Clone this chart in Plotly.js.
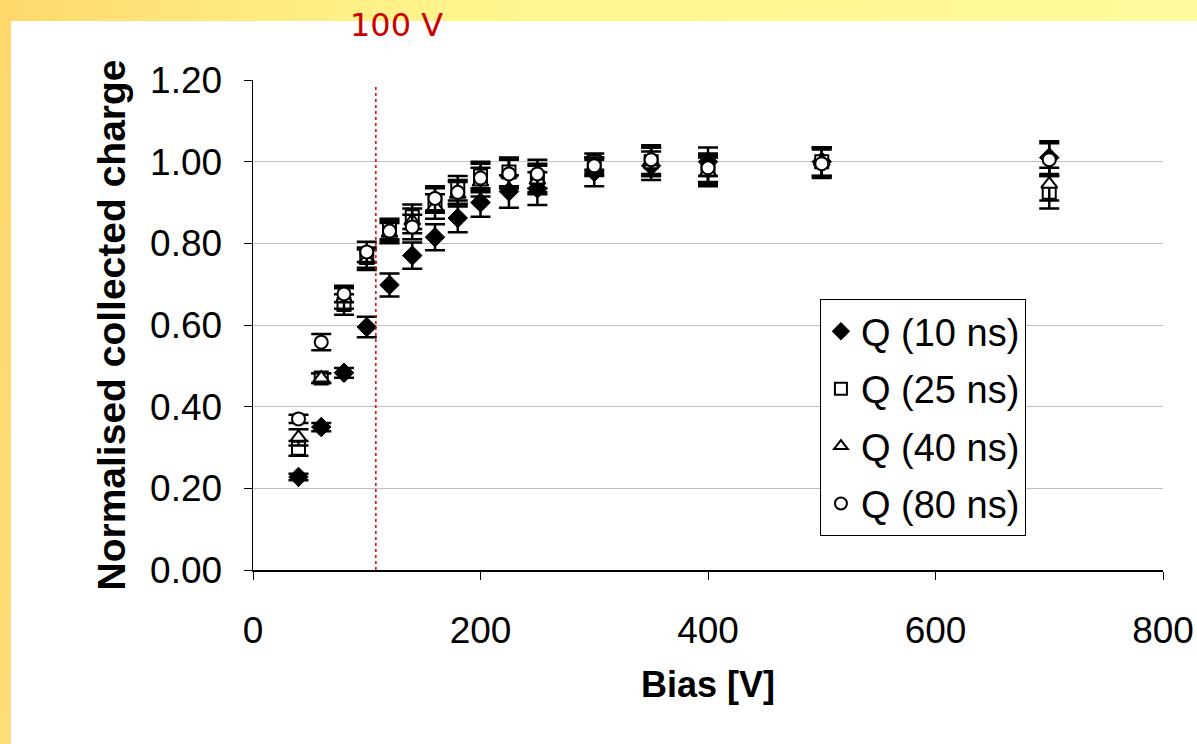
<!DOCTYPE html>
<html>
<head>
<meta charset="utf-8">
<script src="https://cdn.plot.ly/plotly-3.0.1.min.js"></script>
<style>
  html, body { margin:0; padding:0; background:#ffffff; }
  #wrap { position:relative; width:1197px; height:744px; overflow:hidden; background:#ffffff; }
  #topband { position:absolute; left:0; top:0; width:1197px; height:21px;
    background:linear-gradient(to right, #FFD86C 0%, #FFEE84 25%, #FFF68F 45%, #FFFA9C 100%); }
  #leftband { position:absolute; left:0; top:0; width:11px; height:744px;
    background:linear-gradient(to bottom, #FFD86C 0%, #FFDD77 100%); }
  #chart { position:absolute; left:0; top:0; width:1197px; height:744px; }
</style>
</head>
<body>
<div id="wrap">
  <div id="topband"></div>
  <div id="leftband"></div>
  <div id="chart"></div>
</div>
<script>
// Bias voltages [V]
const bias = [40, 60, 80, 100, 120, 140, 160, 180, 200, 225, 250, 300, 350, 400, 500, 700];

// Normalised collected charge for each integration time
const q10 = [0.228, 0.350, 0.483, 0.595, 0.698, 0.770, 0.815, 0.862, 0.900, 0.927, 0.934, 0.975, 0.990, 1.000, 1.000, 1.010];
const q25 = [0.298, 0.470, 0.650, 0.765, 0.835, 0.865, 0.905, 0.935, 0.965, 0.975, 0.960, 1.000, 1.000, 0.980, 1.000, 0.925];
const q40 = [0.325, 0.470, 0.665, 0.760, 0.825, 0.855, 0.890, 0.920, 0.950, 0.970, 0.955, 0.985, 1.000, 0.975, 1.000, 0.945];
const q80 = [0.370, 0.558, 0.676, 0.779, 0.830, 0.840, 0.910, 0.925, 0.960, 0.970, 0.970, 0.990, 1.005, 0.985, 0.995, 1.005];

// Error bars (absolute)
const e10 = [0.008, 0.010, 0.012, 0.025, 0.028, 0.032, 0.032, 0.035, 0.035, 0.040, 0.040, 0.035, 0.035, 0.035, 0.035, 0.040];
const e25 = [0.018, 0.012, 0.025, 0.025, 0.025, 0.030, 0.030, 0.030, 0.035, 0.035, 0.035, 0.020, 0.035, 0.035, 0.035, 0.040];
const e40 = [0.020, 0.012, 0.025, 0.025, 0.025, 0.030, 0.030, 0.030, 0.035, 0.035, 0.035, 0.020, 0.035, 0.035, 0.035, 0.040];
const e80 = [0.010, 0.020, 0.020, 0.025, 0.025, 0.030, 0.030, 0.030, 0.035, 0.035, 0.035, 0.020, 0.035, 0.035, 0.035, 0.040];

const seriesNames = ["Q (10 ns)", "Q (25 ns)", "Q (40 ns)", "Q (80 ns)"];
const xTicks = [0, 200, 400, 600, 800];
const yTicks = [0, 0.2, 0.4, 0.6, 0.8, 1.0, 1.2];
const markLine = 108;   // position of the dotted 100 V marker

function errBar(arr) {
  return { type: 'data', array: arr, visible: true, color: '#000000', thickness: 2.5, width: 10 };
}

const traces = [
  { x: bias, y: q10, name: seriesNames[0], legendgroup: 'a', mode: 'markers', type: 'scatter',
    error_y: errBar(e10),
    marker: { symbol: 'diamond', size: 15, color: '#000000', line: { color: '#000000', width: 1 } } },
  { x: bias, y: q25, name: seriesNames[1], legendgroup: 'b', mode: 'markers', type: 'scatter',
    error_y: errBar(e25),
    marker: { symbol: 'square', size: 13, color: '#ffffff', line: { color: '#000000', width: 2 } } },
  { x: bias, y: q40, name: seriesNames[2], legendgroup: 'c', mode: 'markers', type: 'scatter',
    error_y: errBar(e40),
    marker: { symbol: 'triangle-up', size: 14, color: '#ffffff', line: { color: '#000000', width: 2 } } },
  { x: bias, y: q80, name: seriesNames[3], legendgroup: 'd', mode: 'markers', type: 'scatter',
    error_y: errBar(e80),
    marker: { symbol: 'circle', size: 13, color: '#ffffff', line: { color: '#000000', width: 2 } } }
];

const layout = {
  width: 1197, height: 744,
  paper_bgcolor: 'rgba(0,0,0,0)',
  plot_bgcolor: '#ffffff',
  margin: { l: 253, r: 34, t: 80, b: 174 },
  font: { family: '"Liberation Sans", Arial, sans-serif', size: 36, color: '#000000' },
  showlegend: true,
  legend: {
    x: 0.623, y: 0.553, xanchor: 'left', yanchor: 'top',
    bgcolor: '#ffffff', bordercolor: '#000000', borderwidth: 1,
    font: { family: '"Liberation Sans", Arial, sans-serif', size: 38, color: '#000000' },
    tracegroupgap: 5, itemsizing: 'constant',
    entrywidth: 185, entrywidthmode: 'pixels'
  },
  xaxis: {
    range: [0, 800], tickvals: xTicks, ticktext: xTicks.map(String),
    showgrid: false, zeroline: false,
    showline: true, linecolor: '#000000', linewidth: 1.5,
    ticks: 'outside', ticklen: 8, tickcolor: '#000000', tickwidth: 1,
    ticklabelstandoff: 19,
    tickfont: { size: 37 },
    title: { text: 'Bias [V]', font: { size: 36, weight: 'bold' }, standoff: 22 }
  },
  yaxis: {
    range: [0, 1.2], tickvals: yTicks, ticktext: yTicks.map(v => v.toFixed(2)),
    showgrid: true, gridcolor: '#c0c0c0', gridwidth: 1, zeroline: false,
    showline: true, linecolor: '#000000', linewidth: 1.5,
    ticks: 'outside', ticklen: 8, tickcolor: '#000000', tickwidth: 1,
    ticklabelstandoff: 14,
    tickfont: { size: 37 },
    title: { text: 'Normalised collected charge', font: { size: 39, weight: 'bold' }, standoff: 12 }
  },
  shapes: [
    { type: 'line', xref: 'x', yref: 'y', x0: markLine, x1: markLine, y0: 0, y1: 1.183,
      line: { color: '#dd0000', width: 1.5, dash: 'dot' } }
  ],
  annotations: [
    { text: '100 V', xref: 'paper', yref: 'paper', x: 0.158, y: 1.112,
      xanchor: 'center', yanchor: 'middle', showarrow: false,
      font: { family: '"DejaVu Sans", Verdana, sans-serif', size: 32, color: '#cc0000' } }
  ]
};

Plotly.newPlot('chart', traces, layout, { displayModeBar: false, staticPlot: true });
</script>
</body>
</html>
